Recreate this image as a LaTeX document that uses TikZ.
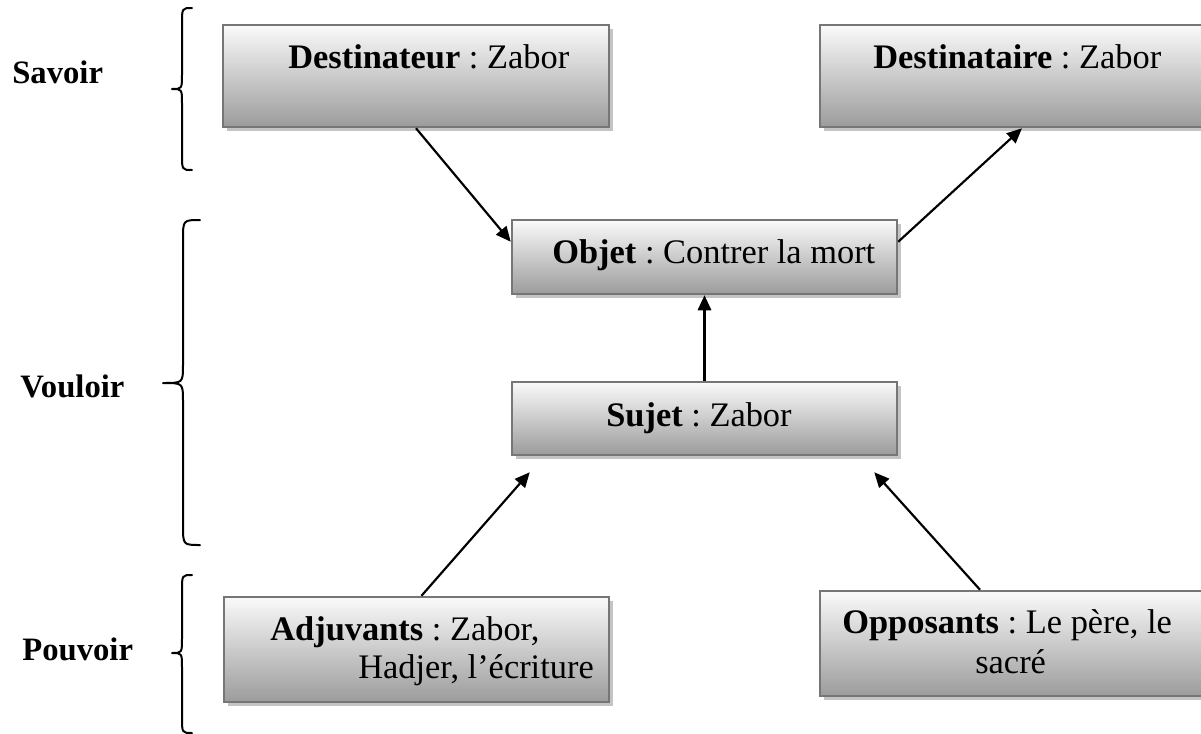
\documentclass[tikz,border=0pt]{standalone}
\usepackage{fontspec}
\setmainfont{Liberation Serif}
\frenchspacing
\usetikzlibrary{arrows.meta,shadows,calc}
\definecolor{boxborder}{HTML}{767676}
\definecolor{shadowgray}{HTML}{C4C4C4}
\tikzset{
  abox/.style={rectangle, draw=boxborder, line width=1.5pt, top color=gray!4, bottom color=gray!78,
    general shadow={fill=shadowgray, shadow xshift=2.4pt, shadow yshift=-2.4pt}, inner sep=0pt},
  btext/.style={anchor=base west, inner sep=0pt, font=\fontsize{20.64}{24}\selectfont},
  lab/.style={anchor=base west, inner sep=0pt, font=\fontsize{19.6}{23}\selectfont\bfseries},
  arr/.style={line width=1.3pt, -{Triangle[length=9pt,width=8pt]}},
  bracestroke/.style={line width=1.2pt, line cap=round, line join=round}
}
\begin{document}
\begin{tikzpicture}[x=0.6pt,y=-0.6pt]
\useasboundingbox (0,0) rectangle (1201,734);
% boxes
\node[abox, minimum width=231.6pt, minimum height=61.2pt] (dest)  at (416,76) {};
\node[abox, minimum width=231.6pt, minimum height=61.2pt] (destr) at (1013,76) {};
\node[abox, minimum width=231pt,   minimum height=44.4pt] (obj)   at (704.5,257) {};
\node[abox, minimum width=231pt,   minimum height=43.8pt] (suj)   at (704.5,418.5) {};
\node[abox, minimum width=231pt,   minimum height=63pt]   (adj)   at (416.5,649.5) {};
\node[abox, minimum width=231.6pt, minimum height=63pt]   (opp)   at (1013,643.5) {};
% texts
\node[btext] (destT)  at (288,68)  {\textbf{Destinateur} : Zabor};
\node[btext] (destrT) at (873,68)  {\textbf{Destinataire} : Zabor};
\node[btext] (objT)   at (552,263) {\textbf{Objet} : Contrer la mort};
\node[btext] (sujT)   at (606,426) {\textbf{Sujet} : Zabor};
\node[btext] (adjT1)  at (270,640) {\textbf{Adjuvants} : Zabor,};
\node[btext] (adjT2)  at (358,678) {Hadjer, l’écriture};
\node[btext] (oppT1)  at (842,633) {\textbf{Opposants} : Le père, le};
\node[btext] (oppT2)  at (975,673) {sacré};
% left labels
\node[lab] (savoir)  at (12,83)  {Savoir};
\node[lab] (vouloir) at (20,397) {Vouloir};
\node[lab] (pouvoir) at (22,660) {Pouvoir};
% braces
\draw[bracestroke] (192,8) .. controls (182,8) .. (182,24) -- (182,74)
  .. controls (182,89) .. (172,89) .. controls (182,89) .. (182,104) -- (182,154)
  .. controls (182,170) .. (192,170);
\draw[bracestroke] (200,220) .. controls (183,220) .. (183,240) -- (183,365)
  .. controls (183,383) .. (163,383) .. controls (183,383) .. (183,401) -- (183,525)
  .. controls (183,545) .. (200,545);
\draw[bracestroke] (192,575) .. controls (182,575) .. (182,591) -- (182,638)
  .. controls (182,653) .. (172,653) .. controls (182,653) .. (182,668) -- (182,717)
  .. controls (182,733) .. (192,733);
% arrows
\draw[arr] (dest.south) -- ($(obj.north west)+(0,23)$);
\draw[arr] ($(obj.north east)+(0,23)$) -- ($(destr.south)+(9,0)$);
\draw[arr] (suj.north) -- (obj.south);
\draw[arr] ($(adj.north)+(5,0)$) -- ($(suj.south west)+(19,16)$);
\draw[arr] ($(opp.north)+(-33,0)$) -- ($(suj.south east)+(-24,16)$);
\end{tikzpicture}
\end{document}
